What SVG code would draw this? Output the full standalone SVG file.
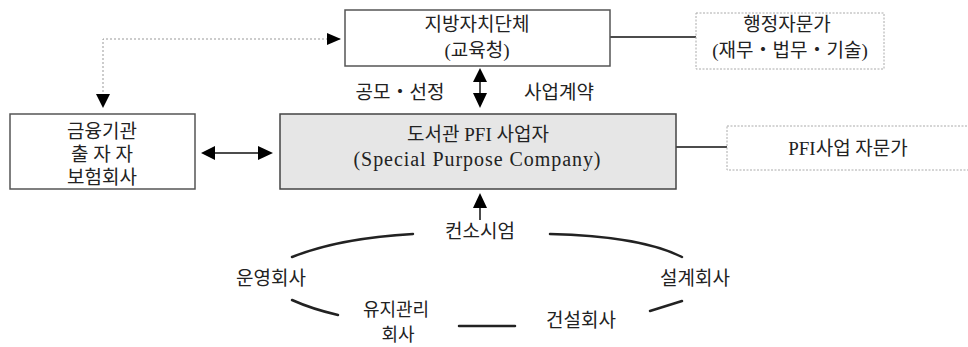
<svg xmlns="http://www.w3.org/2000/svg" width="968" height="347" viewBox="0 0 968 347">
<style>
.box{fill:#fff;stroke:#555;stroke-width:1.5}
.spc{fill:#e6e6e6;stroke:#444;stroke-width:1.5}
.dbox{fill:#fff;stroke:#aaa;stroke-width:1;stroke-dasharray:2,1.5}
.t{font-family:"Liberation Serif","Noto Sans CJK KR",serif;font-size:19px;fill:#222;text-anchor:middle}
.s{font-family:"Noto Sans CJK KR","Noto Sans",sans-serif;font-size:19px;fill:#222;text-anchor:middle}
.ln{stroke:#111;stroke-width:1.5;fill:none}
.dot{stroke:#999;stroke-width:1;stroke-dasharray:2,2;fill:none}
.cv{stroke:#222;stroke-width:2.5;fill:none;stroke-linecap:round}
</style>
<rect width="968" height="347" fill="#fff"/>
<g id="connectors">
<path class="dot" d="M340,39 L103,39 L103,94" />
<path d="M327,33 L341,39 L327,45 z" fill="#000"/>
<path d="M96,94 L103,108 L110,94 z" fill="#000"/>
<line class="ln" x1="480" y1="80" x2="480" y2="95" />
<path d="M473,82 L480,68 L487,82 z" fill="#000"/>
<path d="M473,93 L480,108 L487,93 z" fill="#000"/>
<line class="ln" x1="213" y1="153" x2="260" y2="153" />
<path d="M215,146 L201,153 L215,160 z" fill="#000"/>
<path d="M258,146 L273,153 L258,160 z" fill="#000"/>
<line class="ln" x1="480" y1="206" x2="480" y2="220" />
<path d="M473,208 L480,193 L487,208 z" fill="#000"/>
<line class="ln" x1="610" y1="37" x2="696" y2="37" />
<line class="ln" x1="676" y1="147" x2="727" y2="147" />
<path class="cv" d="M292,257 Q340,238 413,234" />
<path class="cv" d="M550,234 Q640,236 682,257" />
<path class="cv" d="M292,300 Q312,309 338,315" />
<path class="cv" d="M459,326 L515,326" />
<path class="cv" d="M650,311 L682,301" />
</g>
<g id="node-gov">
<rect class="box" x="345" y="10" width="265" height="56"/>
<text class="t" x="477" y="31">지방자치단체</text>
<text class="t" x="477" y="57">(교육청)</text>
</g>
<g id="node-admin">
<rect class="dbox" x="696" y="13" width="188" height="56"/>
<text class="t" x="787" y="31">행정자문가</text>
<text class="t" x="790" y="57">(재무・법무・기술)</text>
</g>
<g id="label-select">
<text class="t" x="400" y="99">공모・선정</text>
</g>
<g id="label-contract">
<text class="t" x="559" y="99">사업계약</text>
</g>
<g id="node-finance">
<rect class="box" x="10" y="114" width="185" height="75"/>
<text class="t" x="102" y="138">금융기관</text>
<text class="t" x="102" y="161">출 자 자</text>
<text class="t" x="102" y="184">보험회사</text>
</g>
<g id="node-spc">
<rect class="spc" x="280" y="114" width="396" height="75"/>
<text class="t" x="478" y="141">도서관 PFI 사업자</text>
<text class="t" x="477" y="166" style="font-size:20px" textLength="247" lengthAdjust="spacing">(Special Purpose Company)</text>
</g>
<g id="node-pfi-adviser">
<rect class="dbox" x="727" y="126" width="260" height="44"/>
<text class="t" x="848" y="155">PFI사업 자문가</text>
</g>
<g id="node-consortium">
<text class="s" x="480" y="238">컨소시엄</text>
</g>
<g id="node-operate">
<text class="s" x="271" y="285">운영회사</text>
</g>
<g id="node-design">
<text class="s" x="695" y="285">설계회사</text>
</g>
<g id="node-maintain">
<text class="s" x="396" y="316" style="font-size:18px">유지관리</text>
<text class="s" x="398" y="341" style="font-size:18px">회사</text>
</g>
<g id="node-build">
<text class="s" x="581" y="327">건설회사</text>
</g>
</svg>
